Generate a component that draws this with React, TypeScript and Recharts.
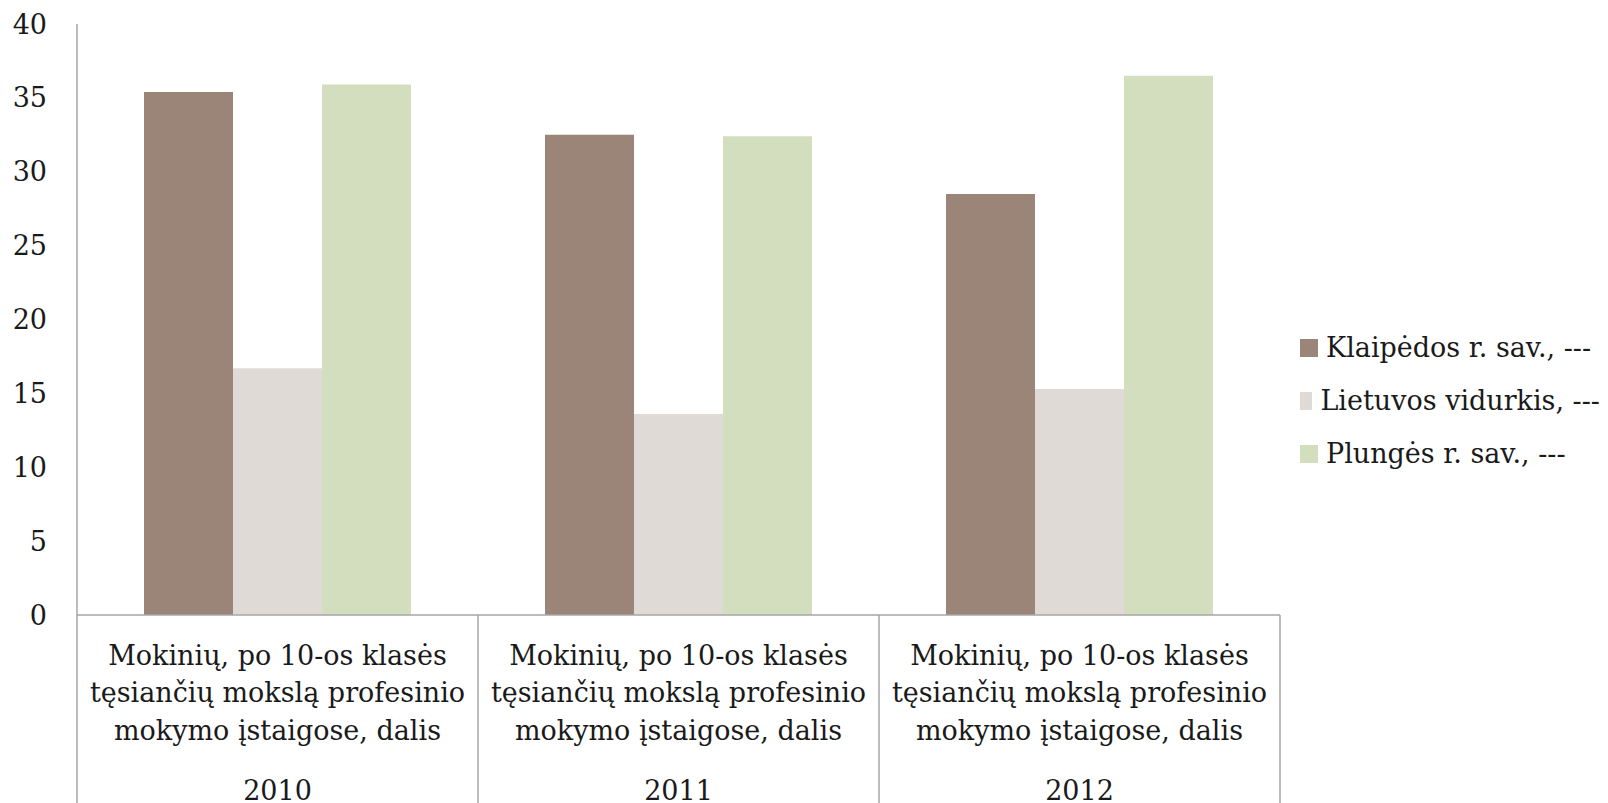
import React from 'react';
import { BarChart, Bar, XAxis, YAxis, Legend } from 'recharts';

const years = ['2010', '2011', '2012'];
const categoryLines = ['Mokinių, po 10-os klasės', 'tęsiančių mokslą profesinio', 'mokymo įstaigose, dalis'];
const klaipedos = [35.4, 32.5, 28.5];
const lietuvos = [16.7, 13.6, 15.3];
const plunges = [35.9, 32.4, 36.5];
const seriesNames = ['Klaipėdos r. sav., ---', 'Lietuvos vidurkis, ---', 'Plungės r. sav., ---'];
const seriesColors = ['#9B8578', '#DFDAD6', '#D3DEBF'];
const yTicks = [0, 5, 10, 15, 20, 25, 30, 35, 40];

const data = years.map((y, i) => ({
  year: y,
  k: klaipedos[i],
  l: lietuvos[i],
  p: plunges[i],
}));

const W = 1608;
const H = 803;
const Y_AXIS_W = 77;
const X_AXIS_H = 188;
const M = { top: 24, right: 328, bottom: 0, left: 0 };
const BAND = (W - Y_AXIS_W - M.right) / years.length;
const FONT = '"DejaVu Serif", serif';
const AXIS = '#A6A6A6';

const CatTick = (props: any) => {
  const { x, y, payload, index } = props;
  const half = BAND / 2;
  return (
    <g>
      {index === 0 && <line x1={x - half} y1={y} x2={x - half} y2={H} stroke={AXIS} strokeWidth={1.5} />}
      <line x1={x + half} y1={y} x2={x + half} y2={H} stroke={AXIS} strokeWidth={1.5} />
      {categoryLines.map((t, i) => (
        <text key={i} x={x} y={y + 40 + i * 37.5} textAnchor="middle" dominantBaseline="central"
          fontFamily={FONT} fontSize={27} fill="#1a1a1a">{t}</text>
      ))}
      <text x={x} y={y + 175} textAnchor="middle" dominantBaseline="central"
        fontFamily={FONT} fontSize={27} fill="#1a1a1a">{payload.value}</text>
    </g>
  );
};

const LegendContent = () => (
  <div style={{ fontFamily: FONT, fontSize: 27, color: '#1a1a1a' }}>
    {seriesNames.map((n, i) => (
      <div key={i} style={{ display: 'flex', alignItems: 'center', height: 53, whiteSpace: 'nowrap' }}>
        <span style={{ display: 'inline-block', width: 18, height: 18, background: seriesColors[i], marginRight: 8 }} />
        <span>{n}</span>
      </div>
    ))}
  </div>
);

export default function App() {
  return (
    <div style={{ position: 'absolute', left: 0, top: 0, width: W, height: H, background: '#fff' }}>
      <BarChart width={W} height={H} data={data} margin={M} barCategoryGap={67} barGap={0}>
        <XAxis dataKey="year" axisLine={{ stroke: AXIS, strokeWidth: 1.5 }} tickLine={false} tickSize={0} tickMargin={0}
          height={X_AXIS_H} tick={<CatTick />} interval={0} />
        <YAxis domain={[0, 40]} ticks={yTicks} axisLine={{ stroke: AXIS, strokeWidth: 1.5 }} tickLine={false}
          tickSize={0} tickMargin={30} width={Y_AXIS_W}
          tick={{ fontFamily: FONT, fontSize: 27, fill: '#1a1a1a' }} />
        <Legend content={<LegendContent />} layout="vertical" align="center" verticalAlign="middle"
          wrapperStyle={{ position: 'absolute', left: 1300, top: 321, width: 300 }} />
        <Bar dataKey="k" name={seriesNames[0]} fill={seriesColors[0]} isAnimationActive={false} />
        <Bar dataKey="l" name={seriesNames[1]} fill={seriesColors[1]} isAnimationActive={false} />
        <Bar dataKey="p" name={seriesNames[2]} fill={seriesColors[2]} isAnimationActive={false} />
      </BarChart>
    </div>
  );
}
